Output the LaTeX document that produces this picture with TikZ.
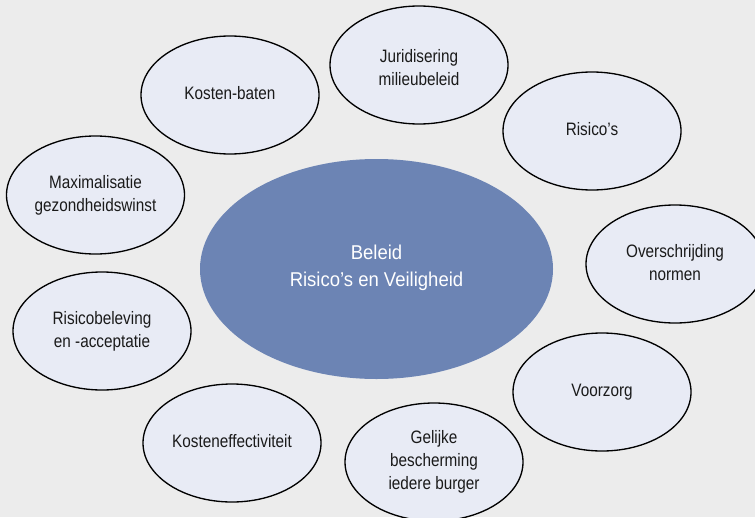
\documentclass[tikz,border=0pt]{standalone}
\usepackage{graphicx}
\usepackage{fontspec}
\setmainfont{Liberation Sans}
\usetikzlibrary{shapes.geometric}
\definecolor{bgc}{HTML}{ECECEC}
\definecolor{satfill}{HTML}{E8EBF5}
\definecolor{corefill}{HTML}{6C84B4}
\definecolor{txt}{HTML}{1A1A1A}
% narrow, centred block of lines
\newcommand\narrowlines[2]{\scalebox{#1}[1]{\begin{tabular}{@{}c@{}}#2\end{tabular}}}
\tikzset{
  sat/.style={ellipse, draw=black, line width=1pt, fill=satfill, inner sep=0pt,
    minimum width=133.5pt, minimum height=88.5pt},
  sattext/.style={text=txt, inner sep=0pt,
    font=\fontsize{13.5pt}{17.25pt}\selectfont},
  core/.style={ellipse, fill=corefill, draw=none, inner sep=0pt,
    minimum width=264.75pt, minimum height=165pt},
  coretext/.style={text=white, inner sep=0pt,
    font=\fontsize{15pt}{20.25pt}\selectfont}
}
\begin{document}
\begin{tikzpicture}[x=0.75pt,y=-0.75pt]
  % canvas
  \path[fill=bgc, use as bounding box] (0,0) rectangle (755,517);
  \begin{scope}
    \clip (0,0) rectangle (755,517);
    % central policy ellipse
    \node[core] (core) at (376.5,269) {};
    \node[coretext] (coreT) at ([yshift=1pt]core.center) {\narrowlines{0.925}{Beleid\\Risico’s en Veiligheid}};
    % surrounding themes
    \node[sat] (kb) at (230,95) {};
    \node[sattext] at (kb.center) {\narrowlines{0.85}{Kosten-baten}};
    \node[sat] (jur) at (419,65) {};
    \node[sattext] at ([yshift=-3pt]jur.center) {\narrowlines{0.85}{Juridisering\\milieubeleid}};
    \node[sat] (ris) at (592,131) {};
    \node[sattext] at (ris.center) {\narrowlines{0.85}{Risico’s}};
    \node[sat] (ovs) at (675,264) {};
    \node[sattext] at (ovs.center) {\narrowlines{0.85}{Overschrijding\\normen}};
    \node[sat] (vz) at (602,392) {};
    \node[sattext] at (vz.center) {\narrowlines{0.85}{Voorzorg}};
    \node[sat] (gel) at (434,462) {};
    \node[sattext] at (gel.center) {\narrowlines{0.85}{Gelijke\\bescherming\\iedere burger}};
    \node[sat] (ke) at (232,443) {};
    \node[sattext] at (ke.center) {\narrowlines{0.85}{Kosteneffectiviteit}};
    \node[sat] (rb) at (102,331) {};
    \node[sattext] at (rb.center) {\narrowlines{0.85}{Risicobeleving\\en -acceptatie}};
    \node[sat] (mx) at (95.5,195) {};
    \node[sattext] at (mx.center) {\narrowlines{0.85}{Maximalisatie\\gezondheidswinst}};
  \end{scope}
\end{tikzpicture}
\end{document}
